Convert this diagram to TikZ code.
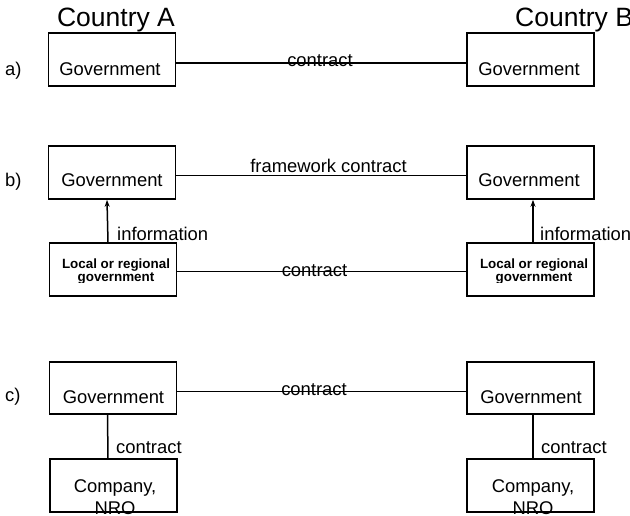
\documentclass[tikz,border=0pt]{standalone}
\usepackage{fontspec}
\setmainfont{Liberation Sans}
\usetikzlibrary{arrows.meta}
\tikzset{
  box/.style={draw, line width=1.6pt, minimum width=127pt, minimum height=53pt, inner sep=0pt},
  txt/.style={inner sep=0pt, anchor=base, font=\fontsize{18.4}{22}\selectfont},
  txtl/.style={txt, anchor=base west},
  big/.style={inner sep=0pt, font=\fontsize{26.5}{30}\selectfont},
  small/.style={inner sep=0pt, anchor=base, font=\fontsize{13.4}{15}\selectfont\bfseries},
  conn/.style={line width=1.7pt},
  thin/.style={line width=1pt},
  vconn/.style={line width=1.5pt},
  arr/.style={vconn, -{Stealth[length=7pt,width=5pt]}}
}
\begin{document}
\begin{tikzpicture}[x=1pt,y=-1pt]
\useasboundingbox (0,0) rectangle (630,515);
% titles
\node[big, anchor=base] (ctA) at (116,26) {Country A};
\node[big, anchor=base west] (ctB) at (515,26) {Country B};
% row labels
\node[txtl] (la) at (5,75.5) {a)};
\node[txtl] (lb) at (5,186.5) {b)};
\node[txtl] (lc) at (5,401.5) {c)};
% a)
\node[box] (gaA) at (112,59.5) {};
\node[box] (gaB) at (530.5,59.5) {};
\node[txt] (tgaA) at (110,75.5) {Government};
\node[txt] (tgaB) at (529,75.5) {Government};
\draw[conn] ([yshift=-3.5pt]gaA.east) -- ([yshift=-3.5pt]gaB.west);
\node[txt] (ca) at (320,66.5) {contract};
% b)
\node[box] (gbA) at (112,172.5) {};
\node[box] (gbB) at (530.5,172.5) {};
\node[txt] (tgbA) at (112,186.5) {Government};
\node[txt] (tgbB) at (529,186.5) {Government};
\draw[thin] ([yshift=-2.5pt]gbA.east) -- ([yshift=-2.5pt]gbB.west);
\node[txt] (fc) at (328.5,172.5) {framework contract};
\node[box] (lbA) at (113,269.5) {};
\node[box] (lbB) at (530.5,269.5) {};
\begin{scope}
\clip ([yshift=14pt]lbA.south west) rectangle (lbB.north east);
\node[small] (tlA1) at (116,268) {Local or regional};
\node[small] (tlA2) at (116,281) {government};
\node[small] (tlB1) at (534,268) {Local or regional};
\node[small] (tlB2) at (534,281) {government};
\end{scope}
\draw[conn] ([yshift=-2pt]lbA.east) -- ([yshift=-2pt]lbB.west);
\node[txt] (cb) at (314.5,276) {contract};
\draw[arr] ([xshift=-5pt]lbA.north) -- ([xshift=-5pt]gbA.south);
\draw[arr] ([xshift=2.5pt]lbB.north) -- ([xshift=2.5pt]gbB.south);
\node[txtl] (iA) at (117,240) {information};
\node[txtl] (iB) at (540,240) {information};
% c)
\node[box, minimum height=52pt] (gcA) at (113,388) {};
\node[box, minimum height=52pt] (gcB) at (530.5,388) {};
\node[txt] (tgcA) at (113.5,403.5) {Government};
\node[txt] (tgcB) at (531,403.5) {Government};
\draw[conn] ([yshift=-3.5pt]gcA.east) -- ([yshift=-3.5pt]gcB.west);
\node[txt] (cc) at (314,395) {contract};
\node[box] (ccA) at (113.5,485.5) {};
\node[box] (ccB) at (530.5,485.5) {};
\draw[vconn] ([xshift=-5.5pt]gcA.south) -- ([xshift=-5.5pt]ccA.north);
\draw[vconn] ([xshift=2.5pt]gcB.south) -- ([xshift=2.5pt]ccB.north);
\node[txtl] (ccl1) at (116,453) {contract};
\node[txtl] (ccl2) at (541,453) {contract};
\node[txt] (coA1) at (115,492) {Company,};
\node[txt] (coA2) at (115,514) {NRO};
\node[txt] (coB1) at (533,492) {Company,};
\node[txt] (coB2) at (533,514) {NRO};
\end{tikzpicture}
\end{document}
